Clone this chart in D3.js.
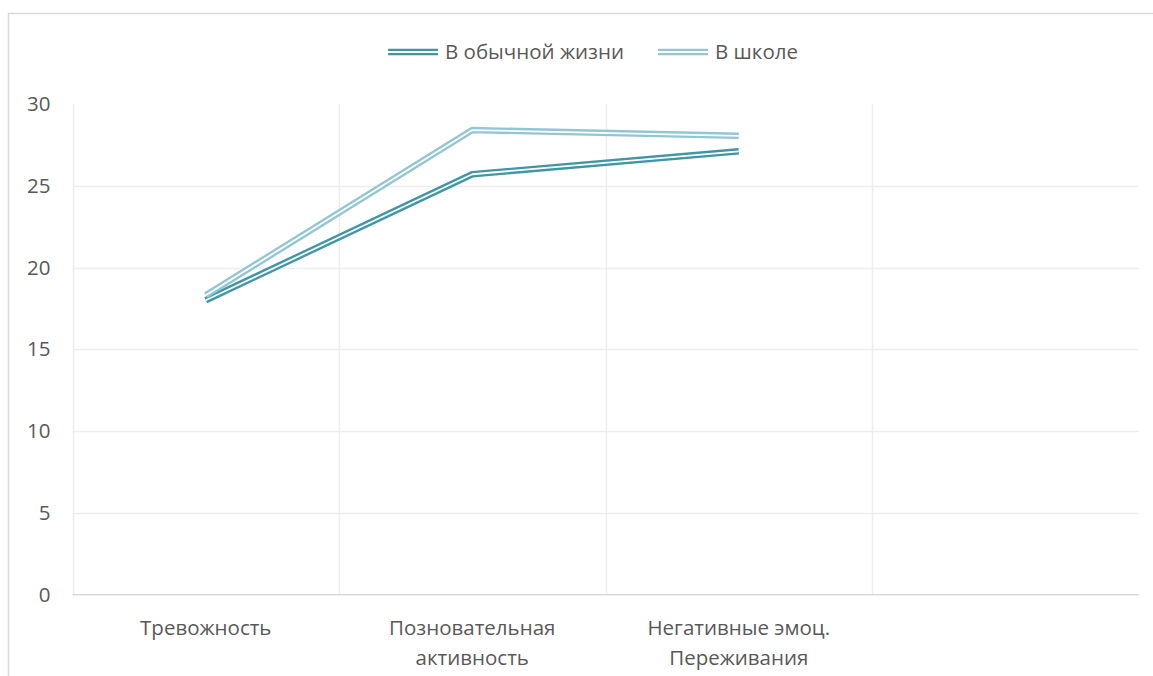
<!DOCTYPE html>
<html>
<head>
<meta charset="utf-8">
<script src="https://cdn.jsdelivr.net/npm/d3@7"></script>
<style>
html,body{margin:0;padding:0;background:#fff;}
svg{display:block;}
text{font-family:"Open Sans","Noto Sans",sans-serif;fill:#595959;}
</style>
</head>
<body>
<svg id="chart" width="1153" height="676"></svg>
<script>
const categories = [["Тревожность"], ["Позновательная", "активность"], ["Негативные эмоц.", "Переживания"], [""]];
const seriesNames = ["В обычной жизни", "В школе"];
const lifeValues = [18.0, 25.7, 27.1];
const schoolValues = [18.3, 28.4, 28.05];
const yTicks = [0, 5, 10, 15, 20, 25, 30];
const colors = ["#3F96A9", "#93C6D5"];

const svg = d3.select("#chart");
const W = 1153, H = 676;
const plot = {left: 72.5, right: 1138.5, top: 103.9, bottom: 594.7};
const FS = 20.5;

// chart border
svg.append("rect").attr("x", 8.5).attr("y", 13.5).attr("width", W + 20).attr("height", H + 20)
  .attr("fill", "none").attr("stroke", "#D9D9D9").attr("stroke-width", 1.5);

const x = d3.scaleBand().domain(d3.range(categories.length)).range([plot.left, plot.right]).padding(0);
const y = d3.scaleLinear().domain([0, 30]).range([plot.bottom, plot.top]);

// horizontal gridlines
svg.append("g").selectAll("line").data(yTicks.filter(d => d > 0 && d < 30)).join("line")
  .attr("x1", plot.left).attr("x2", plot.right)
  .attr("y1", d => Math.round(y(d)) + 0.5).attr("y2", d => Math.round(y(d)) + 0.5)
  .attr("stroke", "#EEEEEE").attr("stroke-width", 1.5);

// vertical gridlines at category boundaries
const bounds = d3.range(categories.length).map(i => plot.left + i * x.step());
svg.append("g").selectAll("line").data(bounds).join("line")
  .attr("x1", d => Math.round(d) + 0.5).attr("x2", d => Math.round(d) + 0.5)
  .attr("y1", plot.top).attr("y2", plot.bottom)
  .attr("stroke", "#EEEEEE").attr("stroke-width", 1.5);

// x axis line
svg.append("line").attr("x1", plot.left).attr("x2", plot.right)
  .attr("y1", plot.bottom).attr("y2", plot.bottom)
  .attr("stroke", "#D9D9D9").attr("stroke-width", 1.5);

// y tick labels
const yAxis = d3.axisLeft(y).tickValues(yTicks).tickSize(0).tickPadding(22);
const yg = svg.append("g").attr("transform", `translate(${plot.left},0)`).call(yAxis);
yg.select(".domain").remove();
yg.selectAll("text").attr("font-size", FS).style("font-family", '"Open Sans","Noto Sans",sans-serif').attr("fill", "#595959");

// x labels
const xl = svg.append("g").selectAll("text").data(categories).join("text")
  .attr("text-anchor", "middle").attr("font-size", FS)
  .attr("transform", (d, i) => `translate(${x(i) + x.bandwidth() / 2},635)`);
xl.selectAll("tspan").data(d => d).join("tspan")
  .attr("x", 0).attr("dy", (d, i) => i === 0 ? 0 : 30).text(d => d);

// lines (double compound)
const line = d3.line().x((d, i) => x(i) + x.bandwidth() / 2).y(d => y(d));
const data = [lifeValues, schoolValues];
data.forEach((vals, k) => {
  const g = svg.append("g");
  g.append("path").datum(vals).attr("d", line).attr("fill", "none")
    .attr("stroke", colors[k]).attr("stroke-width", 6.5).attr("stroke-linejoin", "round");
  g.append("path").datum(vals).attr("d", line).attr("fill", "none")
    .attr("stroke", "#fff").attr("stroke-width", 1.8).attr("stroke-linejoin", "round");
});

// legend
const legendItems = [{name: seriesNames[0], x: 388, color: colors[0]}, {name: seriesNames[1], x: 658, color: colors[1]}];
const lg = svg.append("g").selectAll("g").data(legendItems).join("g")
  .attr("transform", d => `translate(${d.x},52)`);
lg.append("line").attr("x1", 0).attr("x2", 50).attr("y1", 0).attr("y2", 0)
  .attr("stroke", d => d.color).attr("stroke-width", 6.5);
lg.append("line").attr("x1", 0).attr("x2", 50).attr("y1", 0).attr("y2", 0)
  .attr("stroke", "#fff").attr("stroke-width", 1.8);
lg.append("text").attr("x", 57).attr("y", 0).attr("dy", "0.35em").attr("font-size", FS).text(d => d.name);
</script>
</body>
</html>
